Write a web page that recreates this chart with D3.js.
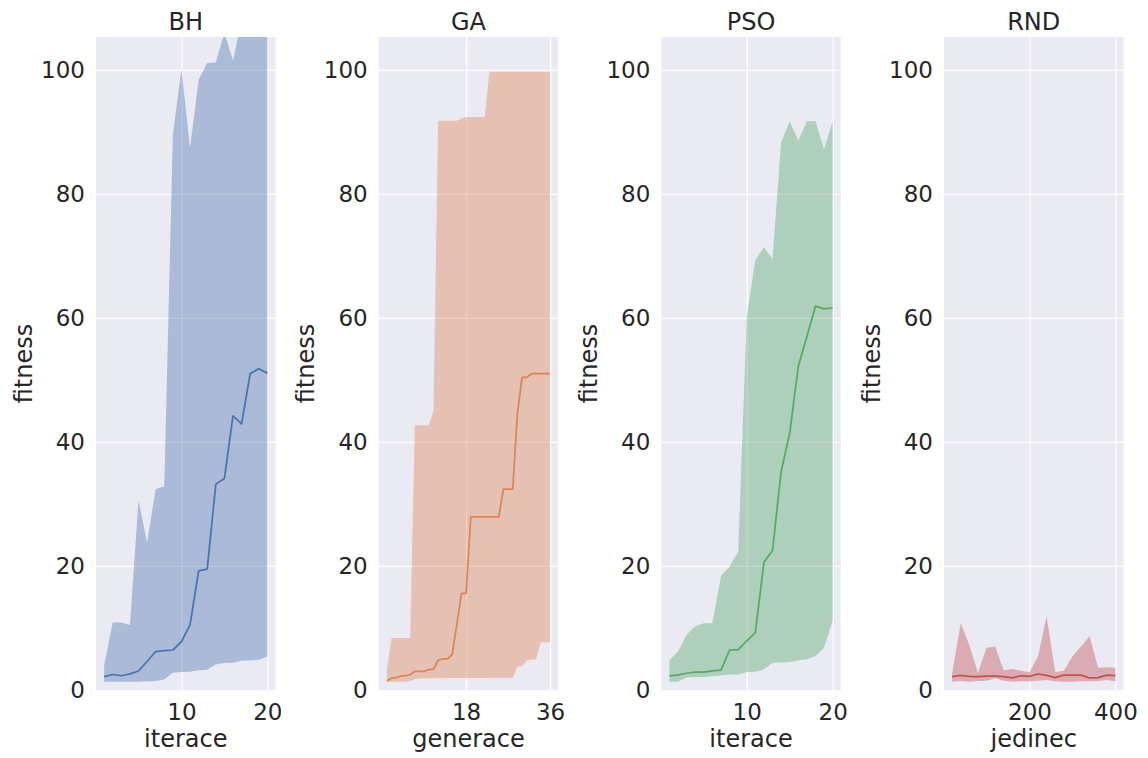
<!DOCTYPE html>
<html>
<head>
<meta charset="utf-8">
<script src="https://cdn.jsdelivr.net/npm/d3@7"></script>
<style>
  body { margin: 0; background: #fff; }
  text { font-family: "DejaVu Sans", sans-serif; fill: #262626; }
</style>
</head>
<body>
<svg id="chart" width="1148" height="758"></svg>
<script>
// x values per panel
const iteraceX = [1, 2, 3, 4, 5, 6, 7, 8, 9, 10, 11, 12, 13, 14, 15, 16, 17, 18, 19, 20];
const generaceX = [1, 2, 3, 4, 5, 6, 7, 8, 9, 10, 11, 12, 13, 14, 15, 16, 17, 18,
  19, 20, 21, 22, 23, 24, 25, 26, 27, 28, 29, 30, 31, 32, 33, 34, 35, 36];
const jedinecX = [20, 40, 60, 80, 100, 120, 140, 160, 180, 200, 220, 240, 260, 280, 300,
  320, 340, 360, 380, 400];

// BH
const bhMean = [2.15, 2.5, 2.3, 2.6, 3.06, 4.6, 6.2, 6.35, 6.45, 7.8, 10.5, 19.2, 19.5,
  33.2, 34.1, 44.2, 42.9, 51.0, 51.8, 51.1];
const bhHigh = [4.0, 10.9, 10.9, 10.5, 30.5, 23.8, 32.4, 32.8, 89.5, 100.1, 87.4, 98.4,
  101.1, 101.2, 106, 101.5, 108, 110, 111, 110];
const bhLow = [1.35, 1.35, 1.35, 1.35, 1.35, 1.4, 1.45, 1.7, 2.8, 2.9, 2.95, 3.2, 3.25,
  4.1, 4.35, 4.4, 4.7, 4.8, 4.85, 5.4];

// GA
const gaMean = [1.5, 1.9, 2.0, 2.26, 2.3, 2.5, 3.0, 3.0, 3.0, 3.3, 3.35, 4.8, 5.0, 5.0,
  5.7, 10.5, 15.6, 15.6, 27.9, 27.9, 27.9, 27.9, 27.9, 27.9, 27.9, 32.4, 32.4, 32.4,
  44.6, 50.4, 50.4, 51.0, 51.0, 51.0, 51.0, 51.0];
const gaHigh = [3.2, 8.4, 8.4, 8.4, 8.4, 8.4, 42.7, 42.7, 42.7, 42.7, 45.0, 91.8, 91.8,
  91.8, 91.8, 91.8, 92.2, 92.4, 92.4, 92.4, 92.4, 92.4, 99.7, 99.7, 99.7, 99.7, 99.7,
  99.7, 99.7, 99.7, 99.7, 99.7, 99.7, 99.7, 99.7, 99.7];
const gaLow = [1.35, 1.35, 1.35, 1.35, 1.35, 1.4, 1.77, 1.85, 1.9, 1.9, 1.9, 1.9, 1.9,
  1.92, 1.92, 1.92, 1.94, 1.94, 1.94, 1.95, 1.95, 1.95, 1.96, 1.96, 1.96, 1.97, 1.97,
  1.97, 3.76, 3.85, 4.7, 4.9, 4.9, 7.7, 7.7, 7.7];

// PSO
const psoMean = [2.26, 2.45, 2.7, 2.9, 2.9, 3.1, 3.2, 6.45, 6.5, 7.9, 9.25, 20.6, 22.5,
  35.2, 41.4, 52.2, 57.0, 61.9, 61.45, 61.6];
const psoHigh = [4.8, 6.2, 8.9, 10.3, 10.75, 10.75, 18.4, 19.9, 22.3, 60.2, 69.35, 71.4,
  69.5, 88.3, 91.7, 88.6, 91.7, 91.7, 87.2, 91.7];
const psoLow = [1.35, 1.35, 2.05, 2.05, 2.1, 2.2, 2.35, 2.5, 2.5, 2.9, 2.95, 3.3, 4.4,
  4.45, 4.5, 4.8, 4.95, 5.5, 6.8, 11.2];

// RND
const rndMean = [2.15, 2.35, 2.2, 2.15, 2.25, 2.25, 2.15, 1.94, 2.3, 2.2, 2.58, 2.35,
  2.0, 2.4, 2.4, 2.4, 1.94, 2.0, 2.4, 2.3];
const rndHigh = [2.7, 10.75, 7.25, 2.8, 6.8, 7.0, 3.2, 3.4, 3.1, 2.85, 5.4, 11.9, 2.9,
  3.1, 5.4, 7.0, 8.7, 3.6, 3.65, 3.6];
const rndLow = [1.35, 1.45, 1.35, 1.45, 1.5, 1.88, 1.5, 1.35, 1.4, 1.4, 1.5, 1.6, 1.4,
  1.35, 1.35, 1.4, 1.4, 1.45, 1.6, 1.4];

const yTicks = [0, 20, 40, 60, 80, 100];

const panels = [
  { title: 'BH', xlabel: 'iterace', x: iteraceX, mean: bhMean, high: bhHigh, low: bhLow,
    domain: [0.05, 20.95], ticks: [10, 20], color: '#4c72b0' },
  { title: 'GA', xlabel: 'generace', x: generaceX, mean: gaMean, high: gaHigh, low: gaLow,
    domain: [-0.75, 37.75], ticks: [18, 36], color: '#dd8452' },
  { title: 'PSO', xlabel: 'iterace', x: iteraceX, mean: psoMean, high: psoHigh, low: psoLow,
    domain: [0.05, 20.95], ticks: [10, 20], color: '#55a868' },
  { title: 'RND', xlabel: 'jedinec', x: jedinecX, mean: rndMean, high: rndHigh, low: rndLow,
    domain: [1, 419], ticks: [200, 400], color: '#c44e52' }
];

const svg = d3.select('#chart');
const plotTop = 37;
const plotBottom = 690;
const width = 179.5;
const lefts = [96, 378.7, 661.3, 944];

const yScale = d3.scaleLinear().domain([0, 105.3]).range([plotBottom, plotTop]);

panels.forEach((p, i) => {
  const g = svg.append('g').attr('transform', `translate(${lefts[i]},0)`);
  const xScale = d3.scaleLinear().domain(p.domain).range([0, width]);

  g.append('clipPath').attr('id', 'clip' + i)
    .append('rect').attr('x', 0).attr('y', plotTop)
    .attr('width', width).attr('height', plotBottom - plotTop);

  g.append('rect')
    .attr('x', 0).attr('y', plotTop)
    .attr('width', width).attr('height', plotBottom - plotTop)
    .attr('fill', '#eaeaf2');

  // grid
  g.append('g')
    .call(d3.axisLeft(yScale).tickValues(yTicks).tickSize(-width).tickFormat(''))
    .call(s => s.select('.domain').remove())
    .selectAll('line').attr('stroke', '#fff').attr('stroke-width', 1.25);
  g.append('g')
    .attr('transform', `translate(0,${plotBottom})`)
    .call(d3.axisBottom(xScale).tickValues(p.ticks).tickSize(-(plotBottom - plotTop)).tickFormat(''))
    .call(s => s.select('.domain').remove())
    .selectAll('line').attr('stroke', '#fff').attr('stroke-width', 1.25);

  const rows = p.x.map((x, k) => ({ x: x, m: p.mean[k], hi: p.high[k], lo: p.low[k] }));

  const area = d3.area()
    .x(d => xScale(d.x))
    .y0(d => yScale(d.lo))
    .y1(d => yScale(d.hi));

  const line = d3.line()
    .x(d => xScale(d.x))
    .y(d => yScale(d.m));

  g.append('path')
    .datum(rows)
    .attr('clip-path', `url(#clip${i})`)
    .attr('fill', p.color)
    .attr('fill-opacity', 0.4)
    .attr('d', area);

  g.append('path')
    .datum(rows)
    .attr('clip-path', `url(#clip${i})`)
    .attr('fill', 'none')
    .attr('stroke', p.color)
    .attr('stroke-width', 1.75)
    .attr('stroke-linejoin', 'round')
    .attr('d', line);

  // tick labels
  g.append('g')
    .call(d3.axisLeft(yScale).tickValues(yTicks).tickSize(0).tickPadding(11))
    .call(s => s.select('.domain').remove())
    .selectAll('text')
    .attr('font-size', 23)
    .attr('font-family', 'DejaVu Sans')
    .attr('fill', '#262626');

  g.append('g')
    .attr('transform', `translate(0,${plotBottom})`)
    .call(d3.axisBottom(xScale).tickValues(p.ticks).tickSize(0).tickPadding(14))
    .call(s => s.select('.domain').remove())
    .selectAll('text')
    .attr('font-size', 23)
    .attr('font-family', 'DejaVu Sans')
    .attr('fill', '#262626');

  g.append('text')
    .attr('x', width / 2)
    .attr('y', 30)
    .attr('text-anchor', 'middle')
    .attr('font-size', 24)
    .text(p.title);

  g.append('text')
    .attr('x', width / 2)
    .attr('y', 747)
    .attr('text-anchor', 'middle')
    .attr('font-size', 24)
    .text(p.xlabel);

  g.append('text')
    .attr('transform', `translate(-64.5,${(plotTop + plotBottom) / 2}) rotate(-90)`)
    .attr('text-anchor', 'middle')
    .attr('font-size', 24)
    .text('fitness');
});
</script>
</body>
</html>
